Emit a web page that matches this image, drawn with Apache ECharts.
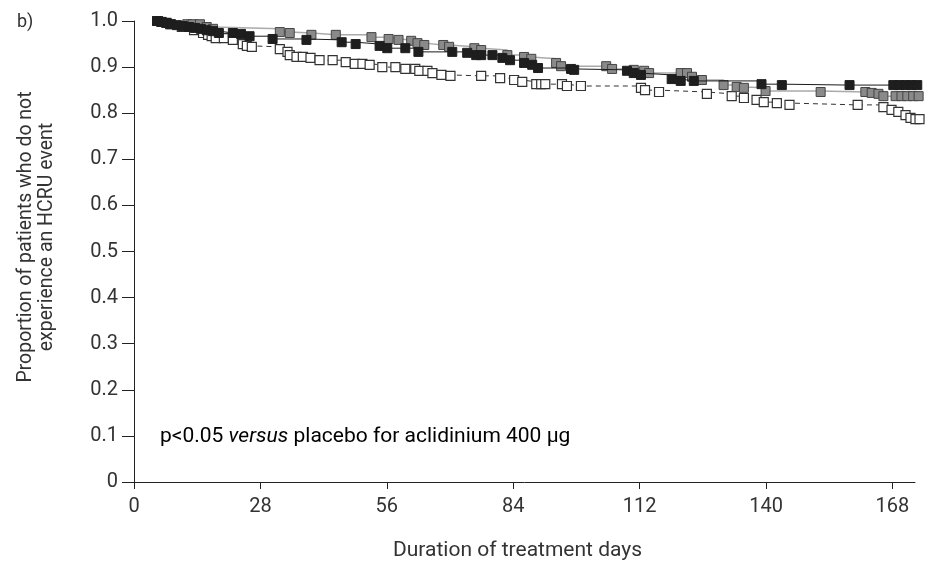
<!DOCTYPE html>
<html>
<head>
<meta charset="utf-8">
<script src="https://cdn.jsdelivr.net/npm/echarts@6/dist/echarts.min.js"></script>
<style>
html,body{margin:0;padding:0;background:#fff;}
#chart{width:930px;height:562px;}
</style>
</head>
<body>
<div id="chart"></div>
<script>
var xTicks = [0, 28, 56, 84, 112, 140, 168];
var yTicks = [0, 0.1, 0.2, 0.3, 0.4, 0.5, 0.6, 0.7, 0.8, 0.9, 1.0];

var seriesNames = ['Placebo', 'Aclidinium 200 µg', 'Aclidinium 400 µg'];

var placeboDays = [5.3,8.0,10.6,13.3,15.3,16.4,17.2,18.1,19.9,21.9,24.1,25.0,26.1,32.3,34.0,34.5,36.0,37.4,39.1,41.1,44.0,46.9,48.9,50.6,52.2,55.0,57.9,60.1,62.3,63.2,65.0,66.1,68.1,70.1,76.9,81.1,84.2,86.0,89.1,90.2,91.1,94.8,95.9,99.0,112.3,113.2,116.3,126.9,132.4,135.1,137.9,139.5,142.4,145.2,160.3,166.0,167.8,169.3,170.9,172.0,173.1,174.0];
var placeboVals = [1.000,0.993,0.987,0.980,0.974,0.970,0.967,0.963,0.963,0.959,0.950,0.946,0.944,0.939,0.933,0.926,0.922,0.922,0.920,0.915,0.915,0.911,0.907,0.907,0.905,0.900,0.900,0.896,0.896,0.892,0.892,0.887,0.883,0.881,0.881,0.876,0.872,0.868,0.863,0.863,0.863,0.863,0.859,0.859,0.855,0.850,0.846,0.842,0.837,0.833,0.829,0.824,0.822,0.818,0.818,0.813,0.807,0.803,0.796,0.790,0.787,0.787];

var acl200Days = [5.1,6.2,7.3,11.8,13.0,14.6,16.1,17.5,32.3,34.5,39.3,44.7,52.6,56.4,58.6,61.4,62.8,64.3,68.5,69.8,75.4,76.9,82.7,86.4,88.0,93.5,94.6,104.6,105.9,110.7,113.0,114.1,121.1,122.5,123.6,125.8,130.6,133.5,135.1,139.9,152.1,162.0,163.4,164.9,166.0,168.7,170.0,171.3,172.6,173.8];
var acl200Vals = [1.000,0.998,0.996,0.993,0.993,0.993,0.987,0.983,0.976,0.974,0.970,0.970,0.965,0.961,0.959,0.957,0.952,0.948,0.948,0.944,0.941,0.937,0.926,0.922,0.918,0.909,0.902,0.902,0.896,0.894,0.892,0.887,0.887,0.887,0.879,0.872,0.861,0.857,0.855,0.848,0.846,0.846,0.844,0.842,0.837,0.837,0.837,0.837,0.837,0.837];

var acl400Days = [5.1,6.0,7.1,8.2,9.5,10.8,12.2,13.5,14.8,16.1,17.5,18.8,21.9,23.7,25.6,30.7,38.2,46.0,49.1,54.4,56.1,60.1,63.0,70.5,73.8,75.8,76.9,79.4,81.6,83.3,86.4,88.2,89.5,96.8,97.5,109.2,110.7,112.3,119.1,121.1,124.0,139.0,143.5,158.5,168.2,169.5,170.9,172.2,173.5];
var acl400Vals = [1.000,0.998,0.996,0.993,0.991,0.989,0.987,0.985,0.983,0.980,0.978,0.974,0.974,0.972,0.967,0.961,0.959,0.954,0.950,0.946,0.941,0.941,0.933,0.933,0.931,0.926,0.926,0.926,0.920,0.915,0.909,0.905,0.898,0.896,0.894,0.892,0.887,0.883,0.874,0.870,0.870,0.863,0.861,0.861,0.861,0.861,0.861,0.861,0.861];

function pairs(xs, ys){ return xs.map(function(x,i){ return [x, ys[i]]; }); }

var FONT = 'Roboto, "DejaVu Sans", sans-serif';
var TXT = '#333';

var chart = echarts.init(document.getElementById('chart'), null, {renderer:'canvas'});
chart.setOption({
  animation: false,
  backgroundColor: '#fff',
  grid: {left: 134, right: 15, top: 21, bottom: 80, containLabel: false, outerBoundsMode: 'none'},
  xAxis: {
    type: 'value', min: 0, max: 173, interval: 28,
    name: 'Duration of treatment days', nameLocation: 'middle', nameGap: 58,
    nameTextStyle: {fontFamily: FONT, fontSize: 21, color: TXT, padding: [0, 14, 0, 0]},
    axisLine: {show: true, onZero: false, lineStyle: {color: '#222', width: 1}},
    axisTick: {show: true, length: 7, lineStyle: {color: '#222'}, customValues: xTicks},
    axisLabel: {customValues: xTicks, margin: 15, fontFamily: FONT, fontSize: 20, color: TXT},
    splitLine: {show: false}
  },
  yAxis: {
    type: 'value', min: 0, max: 1, interval: 0.1,
    axisLine: {show: true, lineStyle: {color: '#222', width: 1}},
    axisTick: {show: true, length: 12, lineStyle: {color: '#222'}, customValues: yTicks},
    axisLabel: {customValues: yTicks, margin: 16, fontFamily: FONT, fontSize: 20, color: TXT,
      formatter: function(v){ return v === 0 ? '0' : v.toFixed(1); }},
    splitLine: {show: false}
  },
  graphic: [
    {type: 'text', x: 37, y: 237, rotation: Math.PI/2,
     style: {text: 'Proportion of patients who do not\nexperience an HCRU event', textAlign: 'center', textVerticalAlign: 'middle',
       fontFamily: FONT, fontSize: 19.5, lineHeight: 21, fill: TXT}},
    {type: 'text', x: 17, y: 22,
     style: {text: 'b)', textAlign: 'left', textVerticalAlign: 'middle', fontFamily: FONT, fontSize: 18, fill: TXT}},
    {type: 'text', x: 160, y: 437,
     style: {text: '{n|p<0.05 }{i|versus}{n| placebo for aclidinium 400 µg}', textAlign: 'left', textVerticalAlign: 'middle',
       rich: {n: {fontFamily: FONT, fontSize: 21, color: TXT}, i: {fontFamily: FONT, fontSize: 21, fontStyle: 'italic', color: TXT}}}}
  ],
  series: [
    {name: seriesNames[0], type: 'line', step: 'end', clip: false, data: pairs(placeboDays, placeboVals),
     symbol: 'rect', symbolSize: 9, showAllSymbol: true,
     lineStyle: {color: '#333', width: 1, type: [5, 4]},
     itemStyle: {color: '#fff', borderColor: '#333', borderWidth: 1.2}, z: 2},
    {name: seriesNames[1], type: 'line', step: 'end', clip: false, data: pairs(acl200Days, acl200Vals),
     symbol: 'rect', symbolSize: 9, showAllSymbol: true,
     lineStyle: {color: '#aaa', width: 1.5},
     itemStyle: {color: '#8a8a8a', borderColor: '#444', borderWidth: 1}, z: 3},
    {name: seriesNames[2], type: 'line', step: 'end', clip: false, data: pairs(acl400Days, acl400Vals),
     symbol: 'rect', symbolSize: 9, showAllSymbol: true,
     lineStyle: {color: '#1a1a1a', width: 1},
     itemStyle: {color: '#1e1e1e', borderColor: '#1e1e1e', borderWidth: 1}, z: 4}
  ]
});
</script>
</body>
</html>
